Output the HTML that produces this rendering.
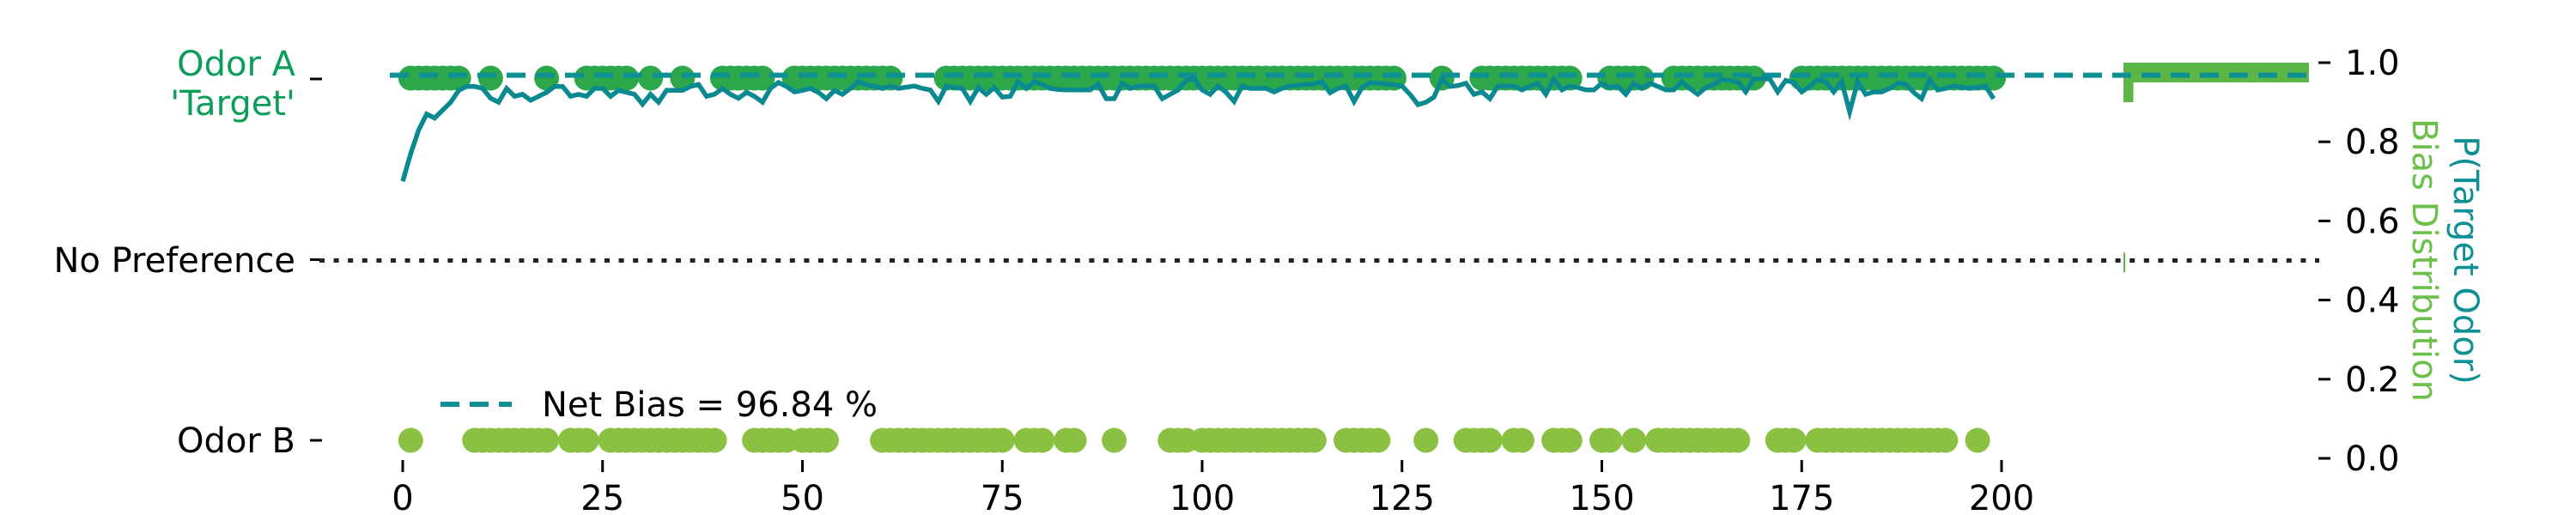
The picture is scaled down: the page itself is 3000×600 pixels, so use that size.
<!DOCTYPE html>
<html><head><meta charset="utf-8">
<style>
html,body{margin:0;padding:0;background:#fff;width:3000px;height:600px;overflow:hidden}
svg text{font-family:"DejaVu Sans","Liberation Sans",sans-serif}
</style></head>
<body>
<svg id="chart" width="3000" height="600" viewBox="0 0 3000 600" xmlns="http://www.w3.org/2000/svg">
  <g id="axes"></g>
  <g id="marks"></g>
  <text x="344" y="88" text-anchor="end" font-size="40" fill="#0a9e5a">Odor A</text>
  <text x="344" y="134" text-anchor="end" font-size="40" fill="#0a9e5a">'Target'</text>
  <text x="344" y="317" text-anchor="end" font-size="40" fill="#000">No Preference</text>
  <text x="344" y="527" text-anchor="end" font-size="40" fill="#000">Odor B</text>
  <g>
    <line x1="513" y1="471" x2="596" y2="471" stroke="#0e9095" stroke-width="6" stroke-dasharray="22 12"/>
    <text x="631" y="485" font-size="40" fill="#000">Net Bias = 96.84 %</text>
  </g>
  <text transform="translate(2858,303) rotate(90)" text-anchor="middle" font-size="40" fill="#0e9095">P(Target Odor)</text>
  <text transform="translate(2810,303) rotate(90)" text-anchor="middle" font-size="40" fill="#6cbf4a">Bias Distribution</text>
</svg>
<script>
const xTicks = [0,25,50,75,100,125,150,175,200];
const yRightTicks = ["0.0","0.2","0.4","0.6","0.8","1.0"];
const choiceA = [1,2,3,4,5,6,7,11,18,23,24,25,26,27,28,31,35,40,41,42,43,44,45,49,50,51,52,53,54,55,56,57,58,59,60,61,
68,69,70,71,72,73,74,75,76,77,78,79,80,81,82,83,84,85,86,87,88,89,90,91,92,93,94,95,96,97,98,99,100,101,102,103,104,105,106,107,108,109,110,111,112,113,114,115,116,117,118,119,120,121,122,123,124,
130,135,136,137,138,139,140,141,142,143,144,145,146,151,152,153,154,155,159,160,161,162,163,164,165,166,167,168,169,
175,176,177,178,179,180,181,182,183,184,185,186,187,188,189,190,191,192,193,194,195,196,197,198,199];
const choiceB = [1,9,10,11,12,13,14,15,16,17,18,21,22,23,26,27,28,29,30,31,32,33,34,35,36,37,38,39,44,45,46,47,48,50,51,52,53,
60,61,62,63,64,65,66,67,68,69,70,71,72,73,74,75,78,79,80,83,84,89,96,97,98,100,101,102,103,104,105,106,107,108,109,110,111,112,113,114,
118,119,120,121,122,128,133,134,135,136,139,140,144,145,146,150,151,154,157,158,159,160,161,162,163,164,165,166,167,
172,173,174,177,178,179,180,181,182,183,184,185,186,187,188,189,190,191,192,193,197];
const pTarget = [0.70,0.77,0.83,0.87,0.86,0.88,0.90,0.93,0.94,0.94,0.935,0.91,0.90,0.935,0.915,0.92,0.905,0.915,0.925,0.94,
0.94,0.915,0.92,0.915,0.935,0.935,0.915,0.93,0.925,0.92,0.895,0.92,0.90,0.93,0.93,0.93,0.94,0.945,0.915,0.92,
0.935,0.92,0.91,0.925,0.915,0.90,0.935,0.95,0.94,0.926,0.93,0.935,0.925,0.909,0.93,0.92,0.935,0.952,0.944,0.94,
0.935,0.941,0.935,0.938,0.941,0.935,0.931,0.902,0.941,0.937,0.935,0.902,0.937,0.92,0.937,0.913,0.915,0.952,0.935,0.952,
0.945,0.935,0.932,0.931,0.931,0.931,0.931,0.946,0.909,0.909,0.948,0.935,0.941,0.941,0.941,0.909,0.92,0.931,0.955,0.959,
0.931,0.92,0.941,0.925,0.902,0.941,0.935,0.935,0.935,0.926,0.935,0.941,0.943,0.945,0.946,0.952,0.924,0.935,0.941,0.902,
0.937,0.95,0.948,0.946,0.944,0.941,0.92,0.894,0.90,0.913,0.959,0.94,0.942,0.948,0.92,0.926,0.909,0.941,0.941,0.941,
0.931,0.94,0.948,0.92,0.959,0.931,0.941,0.937,0.931,0.931,0.948,0.937,0.941,0.92,0.948,0.935,0.948,0.94,0.931,0.931,
0.952,0.935,0.92,0.937,0.945,0.957,0.955,0.952,0.926,0.959,0.959,0.959,0.926,0.955,0.95,0.926,0.94,0.957,0.952,0.926,
0.952,0.876,0.952,0.92,0.926,0.926,0.935,0.948,0.946,0.925,0.909,0.957,0.931,0.935,0.941,0.938,0.935,0.937,0.941,0.909];
const netBias = 0.9684;
const histBinLow = [0.95,0.90,0.47];
const histBinHigh = [1.00,0.95,0.52];
const histCounts = [188,10,1];

const NS = "http://www.w3.org/2000/svg";
function xS(t){ return 469 + t*9.31; }
function yR(v){ return 534 - v*461; }
function yL(v){ return 513 - v*421; }
function hS(c){ return 2473 + c*(216/188); }
function mk(tag, attrs, parent){ const e=document.createElementNS(NS,tag); for(const k in attrs) e.setAttribute(k,attrs[k]); parent.appendChild(e); return e; }

const axes=document.getElementById('axes'), marks=document.getElementById('marks');

xTicks.forEach(t=>{
  const tk=mk('line',{x1:xS(t),x2:xS(t),y1:536,y2:550,stroke:'#000','stroke-width':3},axes);
  
  
  const lb=mk('text',{x:xS(t),y:594,'text-anchor':'middle','font-size':40,fill:'#000'},axes);
  lb.textContent=t;
  
  
});
yRightTicks.forEach(s=>{
  const v=parseFloat(s);
  const tk=mk('line',{x1:2700,x2:2714,y1:yR(v),y2:yR(v),stroke:'#000','stroke-width':3},axes);
  
  
  const lb=mk('text',{x:2731,y:yR(v)+14,'font-size':40,fill:'#000'},axes);
  lb.textContent=s;
  
  
});
[[1,'odor-a'],[0.5,'no-preference'],[0,'odor-b']].forEach(([v,n])=>{
  const tk=mk('line',{x1:361,x2:375,y1:yL(v),y2:yL(v),stroke:'#000','stroke-width':3},axes);
  
  
});

const np=mk('line',{x1:372,x2:2701,y1:yR(0.5),y2:yR(0.5),stroke:'#222','stroke-width':5,'stroke-dasharray':'6 10.6'},marks);



histCounts.forEach((c,i)=>{
  const y1=yR(histBinHigh[i]), y2=yR(histBinLow[i]);
  const w=Math.max(hS(c)-hS(0),2);
  const r=mk('rect',{x:hS(0),y:y1,width:w,height:y2-y1,fill:'#5cb547'},marks);
  
  
});

choiceB.forEach(t=>{
  const c=mk('ellipse',{cx:xS(t),cy:yL(0),rx:14.5,ry:14.5,fill:'#8bc142'},marks);
  
  
});
choiceA.forEach(t=>{
  const c=mk('ellipse',{cx:xS(t),cy:yL(1)-1,rx:14.5,ry:14.5,fill:'#2ca84a'},marks);
  
  
});

const nb=mk('line',{x1:454,x2:2695,y1:yR(netBias),y2:yR(netBias),stroke:'#0e9095','stroke-width':6,'stroke-dasharray':'22 12'},marks);



const pts=pTarget.map((v,i)=>xS(i).toFixed(1)+','+yR(v).toFixed(1)).join(' ');
const pl=mk('polyline',{points:pts,fill:'none',stroke:'#0a8a90','stroke-width':5.5,'stroke-linejoin':'miter'},marks);


</script>
</body></html>
